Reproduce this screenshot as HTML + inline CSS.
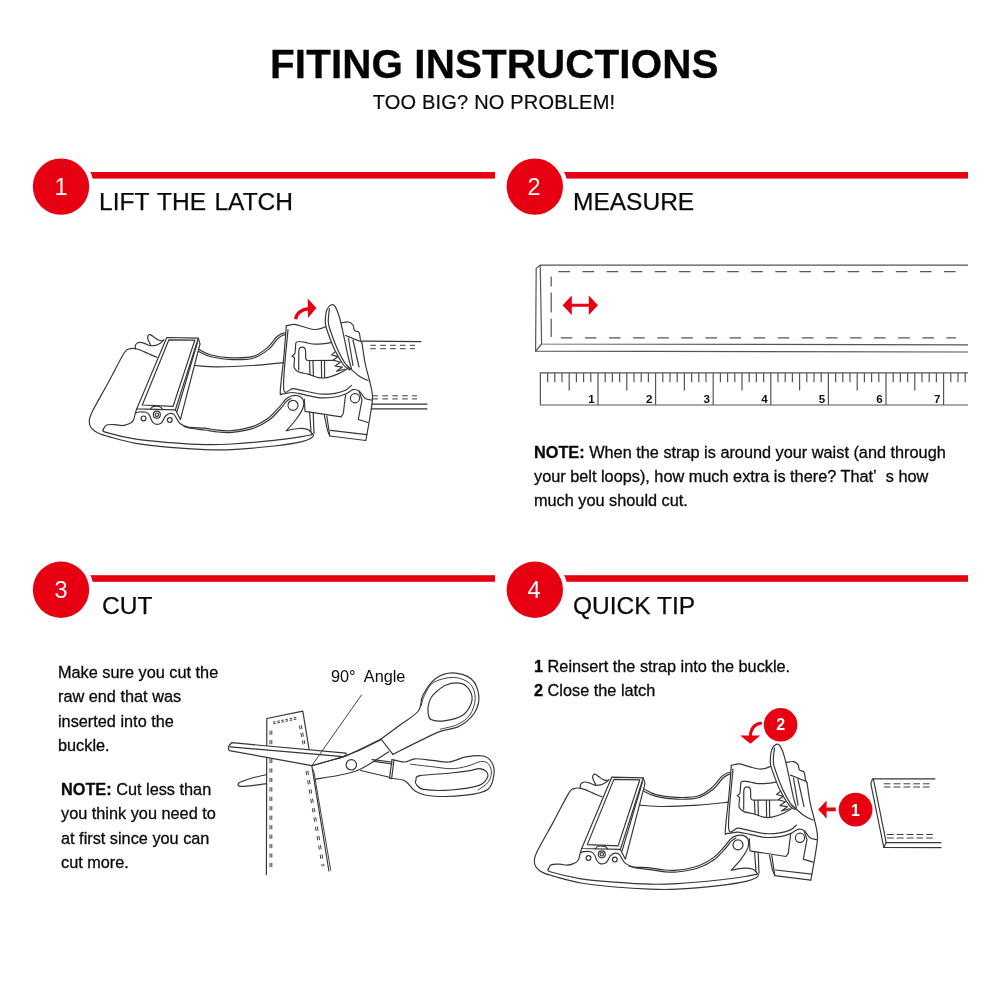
<!DOCTYPE html>
<html lang="en"><head><meta charset="utf-8"><title>Fiting Instructions</title>
<style>
html,body{margin:0;padding:0;background:#fff}
body{width:1000px;height:1000px;position:relative;overflow:hidden;font-family:"Liberation Sans",sans-serif;color:#111}
.t{position:absolute;white-space:nowrap;line-height:1;will-change:transform}
.ttl{left:0;width:988.6px;text-align:center;top:44.2px;font-size:40.4px;font-weight:bold;color:#050505;letter-spacing:.1px;-webkit-text-stroke:.3px #050505}
.sub{left:0;width:988px;text-align:center;top:92.4px;font-size:20px;color:#0a0a0a;letter-spacing:.2px;-webkit-text-stroke:.2px #0a0a0a}
.h{font-size:24.5px;color:#0a0a0a;-webkit-text-stroke:.25px #0a0a0a}
.p{font-size:16.3px;line-height:24.3px;color:#0a0a0a;white-space:nowrap;-webkit-text-stroke:.3px #0a0a0a}
.n{color:#fff;font-size:23.5px;width:40px;text-align:center}
svg{position:absolute;left:0;top:0;will-change:transform}
.ln path,.ln circle{fill:none;stroke:#363636;stroke-width:1.18;stroke-linecap:round;stroke-linejoin:round}
.ln path.d{stroke-width:1;stroke:#3c3c3c;stroke-linecap:butt}
.ln path.th{stroke-width:.95;stroke:#3a3a3a}
.gr path{fill:none;stroke:#555;stroke-width:1.2;}
.rn text{font-family:"Liberation Sans",sans-serif;font-weight:bold;font-size:11.6px;fill:#111}
</style></head>
<body>
<svg width="1000" height="1000" viewBox="0 0 1000 1000">
<g><rect x="61" y="172" width="434" height="6.6" fill="#e60012"/><circle cx="61" cy="186.6" r="32.8" fill="#fff"/><circle cx="61" cy="186.6" r="28.2" fill="#e60012"/><rect x="534.8" y="172" width="433.2" height="6.6" fill="#e60012"/><circle cx="534.8" cy="186.6" r="32.8" fill="#fff"/><circle cx="534.8" cy="186.6" r="28.2" fill="#e60012"/><rect x="61" y="575.2" width="434" height="6.6" fill="#e60012"/><circle cx="61" cy="589.8" r="32.8" fill="#fff"/><circle cx="61" cy="589.8" r="28.2" fill="#e60012"/><rect x="534.8" y="575.2" width="433.2" height="6.6" fill="#e60012"/><circle cx="534.8" cy="589.8" r="32.8" fill="#fff"/><circle cx="534.8" cy="589.8" r="28.2" fill="#e60012"/></g>
<g class="ln">
<path d="M157,357.3 C155.5,356.7 151.3,354.9 148,353.5 C144.7,352.1 140.2,349.8 137,349 C133.8,348.2 131.2,348.2 129,349 C126.8,349.8 127,348.3 123.5,354 C120,359.7 113.2,373.5 108,383 C102.8,392.5 95.7,404.7 92.6,411 C89.5,417.3 89.5,418 89.3,420.8 C89.1,423.6 89.8,425.8 91.2,427.8 C92.7,429.8 95.2,431.6 98,433 C100.8,434.4 106.3,435.8 108,436.4" />
<path d="M108,436.4 C112.7,437.6 125.7,441.6 136,443.4 C146.3,445.2 158.5,446.4 170,447.4 C181.5,448.4 194.7,449.2 205,449.6 C215.3,450 220.5,450.2 232,449.6 C243.5,449 262.3,447.3 274,446 C285.7,444.7 295.8,443 302,441.6 C308.2,440.2 309.6,438.8 311.5,437.8 C313.4,436.8 313.4,436.2 313.4,435.4 C313.4,434.6 311.8,433.4 311.5,433" />
<path d="M103.3,429.4 C103.8,429.9 100.5,430.8 106,432.4 C111.5,434 125.3,437.5 136,439.2 C146.7,440.9 158.5,441.7 170,442.6 C181.5,443.5 194.7,444.4 205,444.6 C215.3,444.8 220.5,444.7 232,444 C243.5,443.3 262.3,441.6 274,440.4 C285.7,439.2 295.7,437.6 302,436.6 C308.3,435.6 310.3,434.9 312,434.6" />
<path d="M103.3,429.4 C103.8,428.7 104.6,425.8 106.6,425 C108.5,424.2 112.4,424.5 115,424.6 C117.6,424.7 119.8,425.7 122,425.6 C124.2,425.5 126.6,424.8 128.5,424 C130.4,423.2 132.1,422.4 133.2,420.6 C134.3,418.8 134.7,415.3 135.3,413.4 C135.9,411.5 136.4,409.7 136.6,409" />
<path d="M135.6,348.8 C135.5,348.3 134.9,346.9 135.2,346 C135.5,345.1 136.4,343.7 137.2,343.1 C138,342.5 138.9,342.3 140.2,342.4 C141.5,342.5 143.4,343.1 145,343.6 C146.6,344.1 148,345.3 149.8,345.6 C151.6,345.9 154,345.7 155.8,345.3 C157.6,344.9 159.2,343.9 160.6,343 C162,342.1 163.4,340.3 164,339.8" />
<path d="M150.6,344.8 C150.1,343.8 148.2,340.5 147.8,339 C147.4,337.5 147.8,336.3 148.2,335.6 C148.6,334.9 149.4,334.3 150.4,334.6 C151.4,334.9 152.7,336.3 154,337.2 C155.3,338.1 156.8,339.4 158.2,340 C159.6,340.6 161.7,340.8 162.4,340.9" />
<path d="M166.8,337.5 L198.3,338.2 L175.4,409.8 L136.7,408.9Z" />
<path d="M168.9,339.8 L194.8,340.2 L173.1,406.3 L142.3,405Z" />
<path d="M198.3,338.2 L200,344 L180.4,419.6 L175.4,409.8" />
<path d="M197.3,343 L177,411.6" />
<path d="M135.6,413 C136.2,412.8 137.3,412.1 139,412 C140.7,411.9 144.2,411.6 146,412.2 C147.8,412.8 148.6,413.9 149.6,415.4 C150.6,416.8 150.9,419.5 151.8,420.9 C152.7,422.3 153.7,423.5 155.1,424 C156.5,424.5 158.7,424.2 160,423.7 C161.3,423.2 161.9,422.1 162.8,420.8 C163.7,419.5 164.4,417.2 165.6,416 C166.8,414.8 168.4,413.7 169.8,413.5 C171.2,413.3 172.8,413.7 174,414.6 C175.2,415.5 175.8,417.3 176.8,418.8 C177.9,420.3 178.4,422.3 180.3,423.7 C182.2,425.1 183.9,426.4 188,427.2 C192.1,427.9 200,427.7 205,428.2 C210,428.7 213.5,429.8 218,430.2 C222.5,430.6 226.2,431.2 232,430.6 C237.8,430 246.9,428.5 253,426.4 C259.1,424.3 264,421.3 268.4,418 C272.8,414.7 276.8,409.8 279.6,406.8 C282.4,403.8 283.3,401.6 285.2,399.8 C287.1,398.1 288.7,397 290.8,396.3 C292.9,395.6 296,395.2 298,395.8 C300,396.4 302.2,397.6 303,399.6 C303.8,401.6 304.2,404.7 303,408 C301.8,411.3 298.8,415.7 296,419.5 C293.2,423.3 287.9,428.8 286.3,430.6" />
<path d="M184,426.4 C185.3,426.8 188.5,427.9 192,428.5 C195.5,429.1 200.7,429.4 205,430 C209.3,430.6 213.5,431.6 218,432 C222.5,432.4 226.2,433 232,432.4 C237.8,431.8 246.8,430.5 253,428.4 C259.2,426.3 264.8,423.1 269.4,419.8 C274,416.5 278,411.4 280.8,408.4 C283.6,405.4 284.5,403.3 286.2,401.6 C287.9,399.9 290.2,398.9 291,398.4" />
<path d="M286.3,430.6 C288.4,430.2 295.4,428.7 299,428.5 C302.6,428.3 305.9,428.9 308,429.6 C310.1,430.4 310.9,432.4 311.5,433" />
<path d="M150.5,409.3 C150.9,408.9 151.4,407 153,406.6 C154.6,406.2 158.4,406.3 160,406.8 C161.6,407.3 162.2,409.1 162.6,409.5" />
<circle cx="143.5" cy="418.4" r="2.4"/>
<circle cx="156.8" cy="414.7" r="3.5"/>
<circle cx="156.8" cy="414.7" r="1.7"/>
<circle cx="169.8" cy="420" r="2.4"/>
<circle cx="293" cy="405.3" r="5"/>
<circle cx="355" cy="398.2" r="4.6"/>
<path d="M199.4,349.6 C201.3,350.5 205.6,353.6 211,355 C216.4,356.4 225,357.6 232,357.8 C239,358 247.2,358 253,356.4 C258.8,354.8 263,351.3 267,348 C271,344.7 274.2,339.2 276.8,336.8 C279.4,334.4 281,334 282.5,333.4 C284,332.8 285.2,333.1 285.8,333" />
<path d="M198.8,351.6 C200.8,352.5 205.5,355.5 211,356.8 C216.5,358.1 225,359.4 232,359.6 C239,359.8 247,359.9 253,358.2 C259,356.5 264,352.9 268.2,349.6 C272.4,346.3 275.5,340.8 278,338.4 C280.5,336 281.7,335.8 283,335.2 C284.3,334.6 285.2,335 285.6,335" />
<path d="M194.4,365.5 C198.3,365.7 208.2,366.9 218,366.9 C227.8,366.9 242.1,366.2 253,365.5 C263.9,364.8 278.5,363.1 283.6,362.6" />
<path d="M286.3,325.8 C287.7,325.6 291.4,324.1 294.5,324.3 C297.6,324.6 301.5,326.4 305,327.3 C308.5,328.2 312.2,329.5 315.5,329.5 C318.8,329.5 322.6,328.1 324.5,327.3 C326.4,326.6 326.6,325.4 327,325" />
<path d="M286.3,325.8 C285.9,330.7 285,344.1 284,355 C283,365.9 280.5,384.5 280.3,391 C280.1,397.5 280.5,393.6 282.6,393.8 C284.7,394.1 289.3,392.3 293,392.5 C296.7,392.7 300.5,393.9 305,394.8 C309.5,395.7 315,397.4 320,397.8 C325,398.2 330.8,397.6 335,397 C339.2,396.4 342.5,395.2 345.5,394 C348.5,392.8 350.8,390.2 353,389.7 C355.2,389.2 357,389.6 359,391 C361,392.4 362.9,396.7 365,398.2 C367.1,399.7 370.5,399.7 371.6,400" />
<path d="M288,329.5 C287.3,339.2 282.8,378.1 283.6,388 C284.4,397.9 289.4,388.1 293,388.6 C296.6,389.1 300.5,390.1 305,391 C309.5,391.9 315,393.6 320,394 C325,394.4 330.8,393.9 335,393.3 C339.2,392.7 342.8,391.6 345.5,390.3 C348.2,389 350.5,386.2 351.5,385.4" />
<path d="M331.2,342.6 C329.7,342.8 325,343.6 322,343.8 C319,344 315.8,344.2 313,344 C310.2,343.8 307.3,342.8 305,342.4 C302.7,342 300.5,341.4 299,341.5 C297.5,341.6 296.6,341.8 296,342.8 C295.4,343.8 295.7,345.7 295.5,347.5 C295.3,349.3 295.4,352.4 294.8,353.8 C294.2,355.2 292.2,355.5 292.2,356.2 C292.1,356.9 294.2,356.3 294.5,358.2 C294.8,360.1 293.4,365.3 294.2,367.6 C294.9,369.9 296.7,370.9 299,372 C301.3,373.1 304.8,373.2 308.1,374.1 C311.4,375 315.5,377 318.6,377.6 C321.8,378.2 323.9,378.2 327,377.6 C330.1,377 334.2,375.5 337.5,374.1 C340.8,372.7 345.1,370 346.6,369.2" />
<path d="M298.7,370 L298.8,351.2 Q299,347.2 302.2,347.2 Q305.6,347.2 305.6,351.4 L305.7,358.4 Q306,360.4 308.4,360.5 L334,360.4" />
<path d="M309.5,360.8 L310,374.8" />
<path d="M313,360.8 L313.4,376" />
<path d="M321.4,360.8 L321.6,377.4" />
<path d="M324.5,360.8 L324.6,377.4" />
<path d="M336.1,351 L331.6,354.9 L338.2,356.6 L333.3,360.1 L340.3,362.2 L335,366 L342.4,367.1 L336.5,371.3 L344.5,369.2" />
<path d="M350,370 C349,369.2 346.5,368.8 344,365.5 C341.5,362.2 337.9,356.5 335,350.5 C332.1,344.5 328.4,334.2 326.8,329.5 C325.2,324.8 325.3,325.2 325.3,322 C325.3,318.8 325.8,312.9 326.8,310 C327.8,307.1 329.9,305.4 331.3,304.8 C332.7,304.2 333.6,304.2 335,306.3 C336.4,308.4 338,312.4 339.5,317.5 C341,322.6 342.5,330.2 344,337 C345.5,343.8 347.2,352.8 348.5,358 C349.8,363.2 351,366.8 351.5,368.5" style="fill:#fff"/>
<path d="M329.4,308.5 C329.2,310.8 328.1,318.2 328.3,322 C328.5,325.8 328.9,326.2 330.5,331 C332.1,335.8 335.5,345 338,350.5 C340.5,356 343.4,360.9 345.5,364 C347.6,367.1 349.6,368.2 350.4,369" />
<path d="M341.2,322.8 C342.4,322.7 346.5,321.6 348.5,322 C350.5,322.4 352,323.6 353,325 C354,326.4 353.5,329.1 354.5,330.3 C355.5,331.6 358,330.9 359,332.5 C360,334.1 360,338.2 360.5,340 C361,341.8 361.8,342.5 362,343" />
<path d="M362,343 C362.5,346.2 363.8,356.2 365,362.5 C366.2,368.8 368.2,374.8 369.5,380.5 C370.8,386.2 372.4,391.2 372.5,397 C372.6,402.8 371.4,407.8 370.3,415 C369.2,422.2 366.6,436.2 365.8,440.5" />
<path d="M345.5,335.5 C346.8,336 350.5,337.5 353,338.5 C355.5,339.5 359.2,341 360.5,341.5" />
<path d="M348.5,338.5 L353,365.5" />
<path d="M353,340 L359,367" />
<path d="M347,365.5 C349,367.2 355.5,373.5 359,376 C362.5,378.5 366.5,379.8 368,380.5" />
<path d="M304.3,399 L305,411.3 L341,416.9 L343.3,413.5 L345.6,394.6" />
<path d="M359,391 L362,400 L358.3,419.5 L368,422.5" />
<path d="M326.8,416 L329.8,436 L365.8,440.5" />
<path d="M330.5,430.4 L366.8,434.6" />
<path d="M324.4,415.6 L327.5,430.5 L329.8,436" />
<path d="M309.6,412.6 L311,431.6" />
<path d="M313.2,413 L314,433.6" />
<path d="M362,341.2 L421,341.6" />
<path d="M370.3,345.3 L415,345.3" class="d" stroke-dasharray="5.6 4.3"/>
<path d="M370.3,348.7 L415,348.7" class="d" stroke-dasharray="5.6 4.3"/>
<path d="M372.5,395.8 L417,395.8" class="d" stroke-dasharray="5.6 4.3"/>
<path d="M372.5,398.9 L417,398.9" class="d" stroke-dasharray="5.6 4.3"/>
<path d="M371.8,404.2 L427,404.2" />
<path d="M371.4,408.8 L427,408.8" />
</g>
<g class="ln" transform="translate(445,439.6)">
<path d="M157,357.3 C155.5,356.7 151.3,354.9 148,353.5 C144.7,352.1 140.2,349.8 137,349 C133.8,348.2 131.2,348.2 129,349 C126.8,349.8 127,348.3 123.5,354 C120,359.7 113.2,373.5 108,383 C102.8,392.5 95.7,404.7 92.6,411 C89.5,417.3 89.5,418 89.3,420.8 C89.1,423.6 89.8,425.8 91.2,427.8 C92.7,429.8 95.2,431.6 98,433 C100.8,434.4 106.3,435.8 108,436.4" />
<path d="M108,436.4 C112.7,437.6 125.7,441.6 136,443.4 C146.3,445.2 158.5,446.4 170,447.4 C181.5,448.4 194.7,449.2 205,449.6 C215.3,450 220.5,450.2 232,449.6 C243.5,449 262.3,447.3 274,446 C285.7,444.7 295.8,443 302,441.6 C308.2,440.2 309.6,438.8 311.5,437.8 C313.4,436.8 313.4,436.2 313.4,435.4 C313.4,434.6 311.8,433.4 311.5,433" />
<path d="M103.3,429.4 C103.8,429.9 100.5,430.8 106,432.4 C111.5,434 125.3,437.5 136,439.2 C146.7,440.9 158.5,441.7 170,442.6 C181.5,443.5 194.7,444.4 205,444.6 C215.3,444.8 220.5,444.7 232,444 C243.5,443.3 262.3,441.6 274,440.4 C285.7,439.2 295.7,437.6 302,436.6 C308.3,435.6 310.3,434.9 312,434.6" />
<path d="M103.3,429.4 C103.8,428.7 104.6,425.8 106.6,425 C108.5,424.2 112.4,424.5 115,424.6 C117.6,424.7 119.8,425.7 122,425.6 C124.2,425.5 126.6,424.8 128.5,424 C130.4,423.2 132.1,422.4 133.2,420.6 C134.3,418.8 134.7,415.3 135.3,413.4 C135.9,411.5 136.4,409.7 136.6,409" />
<path d="M135.6,348.8 C135.5,348.3 134.9,346.9 135.2,346 C135.5,345.1 136.4,343.7 137.2,343.1 C138,342.5 138.9,342.3 140.2,342.4 C141.5,342.5 143.4,343.1 145,343.6 C146.6,344.1 148,345.3 149.8,345.6 C151.6,345.9 154,345.7 155.8,345.3 C157.6,344.9 159.2,343.9 160.6,343 C162,342.1 163.4,340.3 164,339.8" />
<path d="M150.6,344.8 C150.1,343.8 148.2,340.5 147.8,339 C147.4,337.5 147.8,336.3 148.2,335.6 C148.6,334.9 149.4,334.3 150.4,334.6 C151.4,334.9 152.7,336.3 154,337.2 C155.3,338.1 156.8,339.4 158.2,340 C159.6,340.6 161.7,340.8 162.4,340.9" />
<path d="M166.8,337.5 L198.3,338.2 L175.4,409.8 L136.7,408.9Z" />
<path d="M168.9,339.8 L194.8,340.2 L173.1,406.3 L142.3,405Z" />
<path d="M198.3,338.2 L200,344 L180.4,419.6 L175.4,409.8" />
<path d="M197.3,343 L177,411.6" />
<path d="M135.6,413 C136.2,412.8 137.3,412.1 139,412 C140.7,411.9 144.2,411.6 146,412.2 C147.8,412.8 148.6,413.9 149.6,415.4 C150.6,416.8 150.9,419.5 151.8,420.9 C152.7,422.3 153.7,423.5 155.1,424 C156.5,424.5 158.7,424.2 160,423.7 C161.3,423.2 161.9,422.1 162.8,420.8 C163.7,419.5 164.4,417.2 165.6,416 C166.8,414.8 168.4,413.7 169.8,413.5 C171.2,413.3 172.8,413.7 174,414.6 C175.2,415.5 175.8,417.3 176.8,418.8 C177.9,420.3 178.4,422.3 180.3,423.7 C182.2,425.1 183.9,426.4 188,427.2 C192.1,427.9 200,427.7 205,428.2 C210,428.7 213.5,429.8 218,430.2 C222.5,430.6 226.2,431.2 232,430.6 C237.8,430 246.9,428.5 253,426.4 C259.1,424.3 264,421.3 268.4,418 C272.8,414.7 276.8,409.8 279.6,406.8 C282.4,403.8 283.3,401.6 285.2,399.8 C287.1,398.1 288.7,397 290.8,396.3 C292.9,395.6 296,395.2 298,395.8 C300,396.4 302.2,397.6 303,399.6 C303.8,401.6 304.2,404.7 303,408 C301.8,411.3 298.8,415.7 296,419.5 C293.2,423.3 287.9,428.8 286.3,430.6" />
<path d="M184,426.4 C185.3,426.8 188.5,427.9 192,428.5 C195.5,429.1 200.7,429.4 205,430 C209.3,430.6 213.5,431.6 218,432 C222.5,432.4 226.2,433 232,432.4 C237.8,431.8 246.8,430.5 253,428.4 C259.2,426.3 264.8,423.1 269.4,419.8 C274,416.5 278,411.4 280.8,408.4 C283.6,405.4 284.5,403.3 286.2,401.6 C287.9,399.9 290.2,398.9 291,398.4" />
<path d="M286.3,430.6 C288.4,430.2 295.4,428.7 299,428.5 C302.6,428.3 305.9,428.9 308,429.6 C310.1,430.4 310.9,432.4 311.5,433" />
<path d="M150.5,409.3 C150.9,408.9 151.4,407 153,406.6 C154.6,406.2 158.4,406.3 160,406.8 C161.6,407.3 162.2,409.1 162.6,409.5" />
<circle cx="143.5" cy="418.4" r="2.4"/>
<circle cx="156.8" cy="414.7" r="3.5"/>
<circle cx="156.8" cy="414.7" r="1.7"/>
<circle cx="169.8" cy="420" r="2.4"/>
<circle cx="293" cy="405.3" r="5"/>
<circle cx="355" cy="398.2" r="4.6"/>
<path d="M199.4,349.6 C201.3,350.5 205.6,353.6 211,355 C216.4,356.4 225,357.6 232,357.8 C239,358 247.2,358 253,356.4 C258.8,354.8 263,351.3 267,348 C271,344.7 274.2,339.2 276.8,336.8 C279.4,334.4 281,334 282.5,333.4 C284,332.8 285.2,333.1 285.8,333" />
<path d="M198.8,351.6 C200.8,352.5 205.5,355.5 211,356.8 C216.5,358.1 225,359.4 232,359.6 C239,359.8 247,359.9 253,358.2 C259,356.5 264,352.9 268.2,349.6 C272.4,346.3 275.5,340.8 278,338.4 C280.5,336 281.7,335.8 283,335.2 C284.3,334.6 285.2,335 285.6,335" />
<path d="M194.4,365.5 C198.3,365.7 208.2,366.9 218,366.9 C227.8,366.9 242.1,366.2 253,365.5 C263.9,364.8 278.5,363.1 283.6,362.6" />
<path d="M286.3,325.8 C287.7,325.6 291.4,324.1 294.5,324.3 C297.6,324.6 301.5,326.4 305,327.3 C308.5,328.2 312.2,329.5 315.5,329.5 C318.8,329.5 322.6,328.1 324.5,327.3 C326.4,326.6 326.6,325.4 327,325" />
<path d="M286.3,325.8 C285.9,330.7 285,344.1 284,355 C283,365.9 280.5,384.5 280.3,391 C280.1,397.5 280.5,393.6 282.6,393.8 C284.7,394.1 289.3,392.3 293,392.5 C296.7,392.7 300.5,393.9 305,394.8 C309.5,395.7 315,397.4 320,397.8 C325,398.2 330.8,397.6 335,397 C339.2,396.4 342.5,395.2 345.5,394 C348.5,392.8 350.8,390.2 353,389.7 C355.2,389.2 357,389.6 359,391 C361,392.4 362.9,396.7 365,398.2 C367.1,399.7 370.5,399.7 371.6,400" />
<path d="M288,329.5 C287.3,339.2 282.8,378.1 283.6,388 C284.4,397.9 289.4,388.1 293,388.6 C296.6,389.1 300.5,390.1 305,391 C309.5,391.9 315,393.6 320,394 C325,394.4 330.8,393.9 335,393.3 C339.2,392.7 342.8,391.6 345.5,390.3 C348.2,389 350.5,386.2 351.5,385.4" />
<path d="M331.2,342.6 C329.7,342.8 325,343.6 322,343.8 C319,344 315.8,344.2 313,344 C310.2,343.8 307.3,342.8 305,342.4 C302.7,342 300.5,341.4 299,341.5 C297.5,341.6 296.6,341.8 296,342.8 C295.4,343.8 295.7,345.7 295.5,347.5 C295.3,349.3 295.4,352.4 294.8,353.8 C294.2,355.2 292.2,355.5 292.2,356.2 C292.1,356.9 294.2,356.3 294.5,358.2 C294.8,360.1 293.4,365.3 294.2,367.6 C294.9,369.9 296.7,370.9 299,372 C301.3,373.1 304.8,373.2 308.1,374.1 C311.4,375 315.5,377 318.6,377.6 C321.8,378.2 323.9,378.2 327,377.6 C330.1,377 334.2,375.5 337.5,374.1 C340.8,372.7 345.1,370 346.6,369.2" />
<path d="M298.7,370 L298.8,351.2 Q299,347.2 302.2,347.2 Q305.6,347.2 305.6,351.4 L305.7,358.4 Q306,360.4 308.4,360.5 L334,360.4" />
<path d="M309.5,360.8 L310,374.8" />
<path d="M313,360.8 L313.4,376" />
<path d="M321.4,360.8 L321.6,377.4" />
<path d="M324.5,360.8 L324.6,377.4" />
<path d="M336.1,351 L331.6,354.9 L338.2,356.6 L333.3,360.1 L340.3,362.2 L335,366 L342.4,367.1 L336.5,371.3 L344.5,369.2" />
<path d="M350,370 C349,369.2 346.5,368.8 344,365.5 C341.5,362.2 337.9,356.5 335,350.5 C332.1,344.5 328.4,334.2 326.8,329.5 C325.2,324.8 325.3,325.2 325.3,322 C325.3,318.8 325.8,312.9 326.8,310 C327.8,307.1 329.9,305.4 331.3,304.8 C332.7,304.2 333.6,304.2 335,306.3 C336.4,308.4 338,312.4 339.5,317.5 C341,322.6 342.5,330.2 344,337 C345.5,343.8 347.2,352.8 348.5,358 C349.8,363.2 351,366.8 351.5,368.5" style="fill:#fff"/>
<path d="M329.4,308.5 C329.2,310.8 328.1,318.2 328.3,322 C328.5,325.8 328.9,326.2 330.5,331 C332.1,335.8 335.5,345 338,350.5 C340.5,356 343.4,360.9 345.5,364 C347.6,367.1 349.6,368.2 350.4,369" />
<path d="M341.2,322.8 C342.4,322.7 346.5,321.6 348.5,322 C350.5,322.4 352,323.6 353,325 C354,326.4 353.5,329.1 354.5,330.3 C355.5,331.6 358,330.9 359,332.5 C360,334.1 360,338.2 360.5,340 C361,341.8 361.8,342.5 362,343" />
<path d="M362,343 C362.5,346.2 363.8,356.2 365,362.5 C366.2,368.8 368.2,374.8 369.5,380.5 C370.8,386.2 372.4,391.2 372.5,397 C372.6,402.8 371.4,407.8 370.3,415 C369.2,422.2 366.6,436.2 365.8,440.5" />
<path d="M345.5,335.5 C346.8,336 350.5,337.5 353,338.5 C355.5,339.5 359.2,341 360.5,341.5" />
<path d="M348.5,338.5 L353,365.5" />
<path d="M353,340 L359,367" />
<path d="M347,365.5 C349,367.2 355.5,373.5 359,376 C362.5,378.5 366.5,379.8 368,380.5" />
<path d="M304.3,399 L305,411.3 L341,416.9 L343.3,413.5 L345.6,394.6" />
<path d="M359,391 L362,400 L358.3,419.5 L368,422.5" />
<path d="M326.8,416 L329.8,436 L365.8,440.5" />
<path d="M330.5,430.4 L366.8,434.6" />
<path d="M324.4,415.6 L327.5,430.5 L329.8,436" />
<path d="M309.6,412.6 L311,431.6" />
<path d="M313.2,413 L314,433.6" />
</g>
<g class="ln">
<path d="M266.4,874.6 L266.8,718.5 L302.8,711.2 L309.1,749.5" />
<path d="M311.8,765.7 L328.9,871" />
<path d="M313.6,770.2 L330.7,870" class="th"/>
<path d="M270,730.6 L270,868" class="d" stroke-dasharray="4.2 5.25"/>
<path d="M271.8,730.6 L271.8,868" class="d" stroke-dasharray="4.2 5.25"/>
<path d="M273,722.2 L296.5,717.4" class="d" stroke-dasharray="2.6 1.6"/>
<path d="M273.3,723.8 L296.8,719" class="d" stroke-dasharray="2.6 1.6"/>
<path d="M299.4,725.6 L303.4,746" class="d" stroke-dasharray="4 3.6"/>
<path d="M301.2,725.2 L305.2,745.6" class="d" stroke-dasharray="4 3.6"/>
<path d="M306,771 L322.2,866.5" class="d" stroke-dasharray="4.2 5.25"/>
<path d="M307.8,770.6 L324,866.1" class="d" stroke-dasharray="4.2 5.25"/>
<path d="M266.4,774.7 C264,775.2 256.3,776.8 252,778 C247.7,779.2 242.8,781 240.5,782 C238.2,783 238,783.5 238,784.2 C238,784.9 238.2,786.2 240.5,786.4 C242.8,786.6 247.7,786 252,785.6 C256.3,785.2 264,784 266.4,783.7" />
<path d="M231.7,742.7 L346,753.1 L346,756 L311.8,765.7 L229.4,750.6 Q226.6,747.4 231.7,742.7Z" style="fill:#fff"/>
<path d="M230.2,746.8 L343,756.6" />
<path d="M311.8,765.7 C315.2,764.7 339.1,758.5 346,755.8 C352.9,753.1 377.5,740.7 381,739" />
<path d="M338,758.6 C340.2,757.7 355.8,751.9 360,750 C364.2,748.1 378.4,741 380.4,740" />
<path d="M315.4,779.2 C319.5,778.5 333,776.5 340,775 C347,773.5 351.9,772.6 357.2,770.5 C362.5,768.4 366.8,765.6 372,762.5 C377.2,759.4 385.9,753.6 388.7,751.8" />
<path d="M372,759.6 L392,762" />
<path d="M374,761.4 L392,763.8" />
<path d="M360.6,770.5 L389.5,777.3" />
<circle cx="351.3" cy="764.8" r="5.2"/>
<path d="M381,739 C384.2,736.7 393.8,729.7 400,725 C406.2,720.3 414.6,715.9 418.4,711 C422.2,706.1 419.9,701.1 422.7,695.7 C425.5,690.3 430.4,682.5 435.4,678.7 C440.3,674.9 446.4,672.8 452.4,672.8 C458.3,672.8 466.7,674.9 471.1,678.7 C475.5,682.5 478.2,690 478.8,695.7 C479.4,701.4 477.8,707.6 474.5,712.7 C471.2,717.8 464.9,723.2 459.2,726.3 C453.5,729.4 446.7,729.1 440.5,731.4 C434.3,733.7 429.7,736.1 421.8,739.9 C413.9,743.7 397.7,752 392.9,754.4" />
<path d="M381,739 L392.9,754.4" />
<path d="M428,711 C427.7,708 428.5,704.2 429.4,701.4 C430.3,698.6 430.9,697.1 433.6,694.4 C436.3,691.7 440.9,687 445.6,685.2 C450.3,683.4 457.6,682.5 461.8,683.6 C466,684.7 469,688.8 470.6,692 C472.2,695.2 472.6,699 471.4,702.8 C470.1,706.6 467.4,711.9 463.1,714.9 C458.8,717.9 451,719.8 445.6,720.6 C440.2,721.4 433.9,721.2 431,719.6 C428.1,718 428.3,714 428,711Z" />
<path d="M421.3,705.5 C421.8,703.9 422.4,699.4 424.4,695.6 C426.4,691.8 428.5,685.5 433.4,682.5 C438.3,679.5 447.6,677.2 453.7,677.4 C459.8,677.6 466.6,680.3 470.2,683.9 C473.8,687.5 475.2,693.5 475.2,698.7 C475.1,703.9 472.8,710.6 469.9,714.9 C467,719.2 462.6,722 457.7,724.4 C452.8,726.8 443.1,728.4 440.2,729.2" class="th"/>
<path d="M392,759.5 C394.1,759.9 401,762.1 404.8,762 C408.6,761.9 410.5,759.1 415,758.8 C419.5,758.5 426.3,759.8 432,760.3 C437.7,760.8 443.3,762.6 449,762 C454.7,761.4 460.3,757.9 466,756.9 C471.7,755.9 478.8,755.1 483,756 C487.2,756.9 489.7,759 491.5,762 C493.3,765 494.6,769.4 494,773.9 C493.4,778.4 492.8,785.7 488.1,789.2 C483.4,792.8 475.4,794.1 466,795.2 C456.6,796.3 440.5,796.7 432,796 C423.5,795.3 419.5,793.4 415,790.9 C410.5,788.4 409.1,782.8 404.8,780.7 C400.6,778.6 392.1,778.6 389.5,778.2" />
<path d="M392,759.5 L389.5,778.2" />
<path d="M394,760 L391.6,778.6" />
<path d="M416,779.7 C416.7,778.3 414.2,776.8 420,775.7 C425.8,774.6 442.7,773.9 451,773 C459.3,772.1 465.3,771.3 470,770.6 C474.7,769.9 476.3,768.5 479,768.6 C481.7,768.7 484.7,769.9 486.1,771.4 C487.5,772.9 488.6,775.3 487.4,777.6 C486.2,779.9 485.1,783.3 479,785.4 C472.9,787.5 460.2,789.3 451,790 C441.8,790.7 429.8,790.4 424,789.4 C418.2,788.4 417.3,785.6 416,784 C414.7,782.4 415.3,781.1 416,779.7Z" />
<path d="M410.5,764.2 C413.9,764.6 423.9,765.8 430.7,766.5 C437.4,767.2 444.9,768.8 451,768.7 C457.1,768.7 462.2,767.4 467.2,766.2 C472.1,765 477.1,762 480.7,761.6 C484.3,761.2 486.8,762.1 488.6,764 C490.4,765.9 491.5,769.9 491.4,773 C491.3,776.1 490.2,779.6 488,782.4 C485.8,785.2 479.7,788.7 478,790" class="th"/>
<path d="M311.8,765.7 L361.5,694.9" class="th"/>
<path d="M941,847.6 L883.8,847.5 L870.8,783.6 L872.6,778.8 L935,778.8" />
<path d="M873.4,779 L886.2,842.6 L941,842.6" />
<path d="M883.8,847.5 L886.2,842.6" />
<path d="M883.8,783.8 L929.6,783.8" class="d" stroke-dasharray="6.8 3"/>
<path d="M883.8,787 L929.6,787" class="d" stroke-dasharray="6.8 3"/>
<path d="M887,834.5 L932.8,834.5" class="d" stroke-dasharray="6.8 3"/>
<path d="M887,838 L932.8,838" class="d" stroke-dasharray="6.8 3"/>
</g>
<g class="gr">
<path d="M968,265.2 L540.2,265 L536.2,268.2 L535.6,351.2 L968,352" />
<path d="M540.2,265 L541.6,344 L968,344.8" />
<path d="M535.6,351.2 L541.6,344" />
<path d="M558.4,271.6 L956,271.6" stroke="#858585" stroke-width="1.1" stroke-dasharray="11.6 12.5"/>
<path d="M560.8,337.8 L956,337.8" stroke="#858585" stroke-width="1.1" stroke-dasharray="11.6 12.5"/>
<path d="M551.2,276.4 L551.2,337" stroke="#858585" stroke-width="1.1" stroke-dasharray="10 6 20 6 18.6 10"/>
<path d="M968,372.9 L540.4,372.9 L540.4,405 L968,405" stroke="#444"/>
<path d="M547.6,372.9V382.2M554.8,372.9V382.2M562,372.9V382.2M569.2,372.9V390.6M576.4,372.9V382.2M583.6,372.9V382.2M590.8,372.9V382.2M598,372.9V405M605.2,372.9V382.2M612.4,372.9V382.2M619.6,372.9V382.2M626.8,372.9V390.6M634,372.9V382.2M641.2,372.9V382.2M648.4,372.9V382.2M655.6,372.9V405M662.8,372.9V382.2M670,372.9V382.2M677.2,372.9V382.2M684.4,372.9V390.6M691.6,372.9V382.2M698.8,372.9V382.2M706,372.9V382.2M713.2,372.9V405M720.4,372.9V382.2M727.6,372.9V382.2M734.8,372.9V382.2M742,372.9V390.6M749.2,372.9V382.2M756.4,372.9V382.2M763.6,372.9V382.2M770.8,372.9V405M778,372.9V382.2M785.2,372.9V382.2M792.4,372.9V382.2M799.6,372.9V390.6M806.8,372.9V382.2M814,372.9V382.2M821.2,372.9V382.2M828.4,372.9V405M835.6,372.9V382.2M842.8,372.9V382.2M850,372.9V382.2M857.2,372.9V390.6M864.4,372.9V382.2M871.6,372.9V382.2M878.8,372.9V382.2M886,372.9V405M893.2,372.9V382.2M900.4,372.9V382.2M907.6,372.9V382.2M914.8,372.9V390.6M922,372.9V382.2M929.2,372.9V382.2M936.4,372.9V382.2M943.6,372.9V405M950.8,372.9V382.2M958,372.9V382.2M965.2,372.9V382.2" stroke="#444"/>
</g>
<g class="rn">
<text x="594.8" y="402.8" text-anchor="end">1</text>
<text x="652.4" y="402.8" text-anchor="end">2</text>
<text x="710" y="402.8" text-anchor="end">3</text>
<text x="767.6" y="402.8" text-anchor="end">4</text>
<text x="825.2" y="402.8" text-anchor="end">5</text>
<text x="882.8" y="402.8" text-anchor="end">6</text>
<text x="940.4" y="402.8" text-anchor="end">7</text>
</g>
<!-- red arrows -->
<g fill="#e60012" stroke="none">
<path d="M295.7,319.2 Q297,310 309,308.6" fill="none" stroke="#e60012" stroke-width="3.3"/>
<path d="M307.7,298.4 L316.4,308 L308,317.9Z"/>
<path d="M562.6,305.2 L571.8,295.4 L571.8,303.7 L588.8,303.7 L588.8,295.4 L598,305.2 L588.8,315 L588.8,306.7 L571.8,306.7 L571.8,315Z"/>
<circle cx="780.6" cy="724.8" r="16.8"/>
<circle cx="855.6" cy="809.6" r="16.9"/>
<path d="M818.2,809.4 L826.6,800.4 L826.6,807.6 L835.8,807.6 L835.8,811.2 L826.6,811.2 L826.6,818.8Z"/>
<path d="M760.6,723.3 Q751,724.6 750.3,736.5" fill="none" stroke="#e60012" stroke-width="3" stroke-linecap="round"/>
<path d="M740.2,735.4 L760.2,735.4 L750.4,743.8Z"/>
</g>
<g font-family="Liberation Sans, sans-serif" font-weight="bold" font-size="16" fill="#fff" text-anchor="middle">
<text x="780.8" y="730.3">2</text>
<text x="855.4" y="815.5">1</text>
</g>
</svg>

<div class="t ttl">FITING INSTRUCTIONS</div>
<div class="t sub">TOO BIG? NO PROBLEM!</div>
<div class="t n" style="left:41.4px;top:175.5px">1</div>
<div class="t n" style="left:514.4px;top:175.5px">2</div>
<div class="t n" style="left:41px;top:578.7px">3</div>
<div class="t n" style="left:514.2px;top:578.7px">4</div>
<div class="t h" style="left:99.4px;top:190px;word-spacing:1.7px">LIFT THE LATCH</div>
<div class="t h" style="left:572.8px;top:190px">MEASURE</div>
<div class="t h" style="left:102px;top:594px">CUT</div>
<div class="t h" style="left:573.2px;top:594px">QUICK TIP</div>
<div class="t p" style="left:534px;top:439.8px;line-height:24.2px"><b>NOTE:</b> When the strap is around your waist (and through<br>your belt loops), how much extra is there? That&#8217;&nbsp;&nbsp;s how<br>much you should cut.</div>
<div class="t p" style="left:58.4px;top:659.7px">Make sure you cut the<br>raw end that was<br>inserted into the<br>buckle.</div>
<div class="t p" style="left:61.2px;top:777px;line-height:24.4px"><b>NOTE:</b> Cut less than<br>you think you need to<br>at first since you can<br>cut more.</div>
<div class="t p" style="left:534px;top:653.7px;line-height:24.4px"><b>1</b> Reinsert the strap into the buckle.<br><b>2</b> Close the latch</div>
<div class="t" style="left:330.6px;top:668.2px;font-size:16.3px;color:#0c0c0c">90°&nbsp; Angle</div>

</body></html>
